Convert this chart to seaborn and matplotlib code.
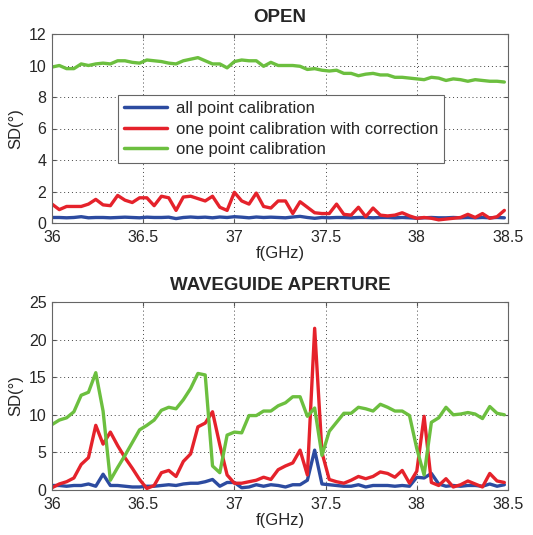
import numpy as np
import pandas as pd
import matplotlib
matplotlib.use("Agg")
import matplotlib.pyplot as plt
import seaborn as sns

# Frequency axis (GHz), 0.04 GHz step
freq = [round(36.0 + 0.04 * i, 2) for i in range(63)]

series_names = ["all point calibration",
                "one point calibration with correction",
                "one point calibration"]

# ---- OPEN ----
open_all = [0.35, 0.35, 0.33, 0.35, 0.40,
            0.33, 0.35, 0.35, 0.33, 0.35,
            0.37, 0.35, 0.33, 0.37, 0.35,
            0.35, 0.37, 0.28, 0.35, 0.38,
            0.35, 0.37, 0.33, 0.38, 0.35,
            0.40, 0.37, 0.33, 0.38, 0.35,
            0.37, 0.35, 0.33, 0.38, 0.42,
            0.35, 0.30, 0.35, 0.33, 0.35,
            0.35, 0.33, 0.35, 0.35, 0.33,
            0.35, 0.35, 0.33, 0.35, 0.33,
            0.30, 0.33, 0.35, 0.33, 0.33,
            0.35, 0.33, 0.35, 0.33, 0.35,
            0.33, 0.35, 0.33]
open_corr = [1.20, 0.85, 1.05, 1.05, 1.05,
             1.20, 1.50, 1.15, 1.10, 1.75,
             1.45, 1.30, 1.60, 1.60, 1.10,
             1.70, 1.60, 0.80, 1.65, 1.70,
             1.55, 1.40, 1.70, 1.00, 0.80,
             1.95, 1.40, 1.20, 1.90, 1.05,
             0.95, 1.40, 1.40, 0.60, 1.35,
             1.00, 0.65, 0.60, 0.60, 1.20,
             0.55, 0.50, 1.00, 0.40, 0.95,
             0.50, 0.45, 0.50, 0.65, 0.45,
             0.30, 0.35, 0.30, 0.20, 0.25,
             0.30, 0.35, 0.55, 0.35, 0.60,
             0.30, 0.40, 0.80]
open_one = [9.90, 10.00, 9.80, 9.80, 10.10,
            10.00, 10.10, 10.15, 10.10, 10.30,
            10.30, 10.20, 10.15, 10.35, 10.30,
            10.25, 10.15, 10.10, 10.30, 10.40,
            10.50, 10.30, 10.10, 10.10, 9.85,
            10.25, 10.35, 10.30, 10.30, 9.95,
            10.20, 10.00, 10.00, 10.00, 9.95,
            9.75, 9.80, 9.70, 9.65, 9.70,
            9.50, 9.50, 9.35, 9.45, 9.50,
            9.40, 9.40, 9.25, 9.25, 9.20,
            9.15, 9.10, 9.25, 9.20, 9.05,
            9.15, 9.10, 9.00, 9.10, 9.05,
            9.00, 9.00, 8.95]

# ---- WAVEGUIDE APERTURE ----
wg_all = [0.6, 0.6, 0.5, 0.6, 0.6,
          0.8, 0.5, 2.1, 0.6, 0.6,
          0.5, 0.4, 0.4, 0.5, 0.5,
          0.6, 0.7, 0.6, 0.8, 0.9,
          0.9, 1.1, 1.4, 0.5, 1.0,
          1.0, 0.3, 0.4, 0.7, 0.5,
          0.7, 0.6, 0.4, 0.7, 0.7,
          1.3, 5.3, 0.8, 0.7, 0.6,
          0.5, 0.5, 0.7, 0.4, 0.6,
          0.6, 0.6, 0.5, 0.6, 0.5,
          1.7, 1.6, 2.2, 0.8, 0.5,
          0.6, 0.5, 0.6, 0.6, 0.5,
          0.8, 0.5, 0.7]
wg_corr = [0.3, 0.8, 1.1, 1.6, 3.4,
           4.3, 8.6, 6.1, 7.7, 5.9,
           4.3, 2.9, 1.4, 0.2, 0.6,
           2.3, 2.6, 1.8, 3.8, 4.8,
           8.4, 8.9, 10.4, 6.0, 2.0,
           0.9, 0.9, 1.1, 1.3, 1.7,
           1.4, 2.7, 3.2, 3.6, 5.3,
           2.0, 21.5, 5.0, 1.4, 1.1,
           0.9, 1.3, 1.8, 1.5, 1.8,
           2.4, 2.2, 1.7, 2.6, 0.9,
           2.5, 9.8, 1.0, 0.6, 1.5,
           0.4, 0.7, 1.2, 0.8, 0.4,
           2.2, 1.2, 1.0]
wg_one = [8.7, 9.3, 9.6, 10.4, 12.6,
          13.0, 15.6, 10.5, 1.3, 3.0,
          4.6, 6.3, 8.0, 8.6, 9.3,
          10.6, 11.0, 10.8, 12.0, 13.5,
          15.5, 15.3, 3.2, 2.3, 7.3,
          7.7, 7.6, 9.9, 9.9, 10.5,
          10.5, 11.2, 11.6, 12.4, 12.4,
          9.8, 10.9, 4.6, 7.8, 9.0,
          10.2, 10.2, 11.0, 10.8, 10.5,
          11.4, 11.0, 10.5, 10.5, 9.9,
          5.5, 2.0, 9.0, 9.6, 11.0,
          10.0, 10.1, 10.3, 10.1, 9.5,
          11.1, 10.2, 10.0]

x_ticks = [36, 36.5, 37, 37.5, 38, 38.5]
x_ticklabels = ["36", "36.5", "37", "37.5", "38", "38.5"]
open_yticks = [0, 2, 4, 6, 8, 10, 12]
wg_yticks = [0, 5, 10, 15, 20, 25]

colors = ["#2c4ba0", "#e5222b", "#6cbf3f"]


def long_df(a, b, c):
    frames = []
    for name, vals in zip(series_names, (a, b, c)):
        frames.append(pd.DataFrame({"f": freq, "SD": vals, "series": name}))
    return pd.concat(frames, ignore_index=True)


sns.set_style("white")
plt.rcParams["font.family"] = ["Liberation Sans", "DejaVu Sans"]

fig = plt.figure(figsize=(5.33, 5.35), dpi=100)
W, H = 533, 535
ax1 = fig.add_axes([52 / W, 1 - 223 / H, 456 / W, 189 / H])
ax2 = fig.add_axes([52 / W, 1 - 490 / H, 456 / W, 188 / H])

palette = dict(zip(series_names, colors))

for ax, df, yt, title, show_leg in [
    (ax1, long_df(open_all, open_corr, open_one), open_yticks, "OPEN", True),
    (ax2, long_df(wg_all, wg_corr, wg_one), wg_yticks, "WAVEGUIDE APERTURE", False),
]:
    sns.lineplot(data=df, x="f", y="SD", hue="series", palette=palette,
                 hue_order=series_names, linewidth=2.4, ax=ax,
                 legend=show_leg, estimator=None)
    ax.set_xlim(36, 38.5)
    ax.set_ylim(yt[0], yt[-1])
    ax.set_xticks(x_ticks)
    ax.set_xticklabels(x_ticklabels)
    ax.set_yticks(yt)
    ax.tick_params(axis="both", direction="in", length=3, labelsize=11.5,
                   color="#555555", top=True, right=True,
                   bottom=True, left=True)
    ax.tick_params(axis="x", pad=5)
    ax.tick_params(axis="y", pad=4)
    ax.grid(True, linestyle=(0, (1, 3)), color="#444444", linewidth=0.7)
    for sp in ax.spines.values():
        sp.set_color("#666666")
        sp.set_linewidth(0.8)
    ax.set_xlabel("f(GHz)", fontsize=12, labelpad=1)
    ax.set_ylabel("SD(°)", fontsize=12, labelpad=4)
    ax.set_title(title, fontsize=13.5, fontweight="bold", pad=9)

leg = ax1.legend(loc="center", bbox_to_anchor=(0.502, 0.497), fontsize=12,
                 handlelength=2.6, frameon=True, fancybox=False,
                 framealpha=1, edgecolor="#666666", borderpad=0.35,
                 labelspacing=0.32, handletextpad=0.5)
for line in leg.get_lines():
    line.set_linewidth(2.5)
leg.get_frame().set_linewidth(0.8)

fig.savefig("out.png", dpi=100)
